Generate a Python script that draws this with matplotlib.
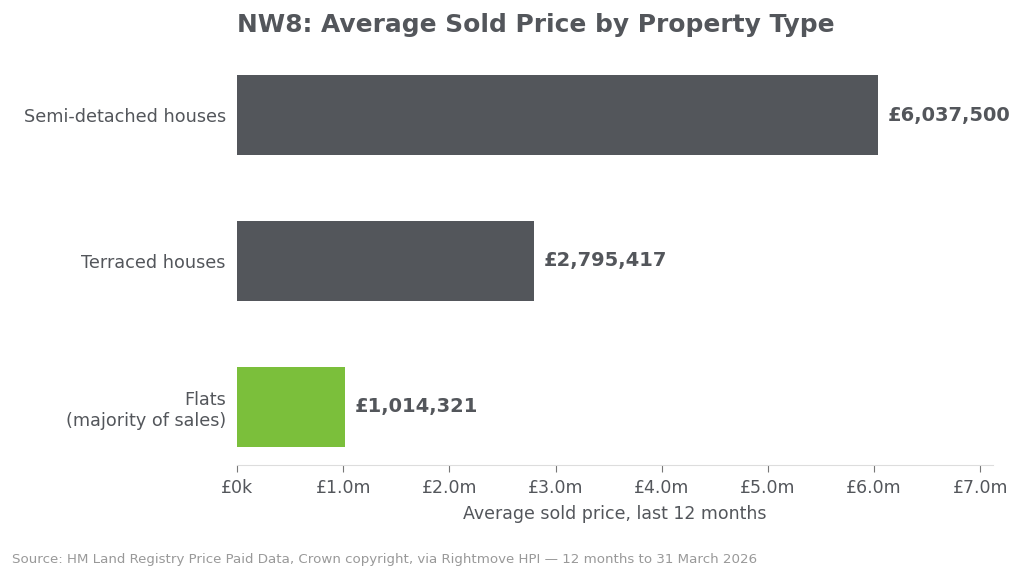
import matplotlib
matplotlib.use("Agg")
import matplotlib.pyplot as plt
from matplotlib.ticker import FuncFormatter

# data
categories = ["Flats\n(majority of sales)", "Terraced houses", "Semi-detached houses"]
prices = [1014321, 2795417, 6037500]
colors = ["#7bbf3b", "#53565b", "#53565b"]

text_col = "#53565b"

fig = plt.figure(figsize=(10.24, 5.79), dpi=100)
ax = fig.add_axes([0.2314, 0.1969, 0.7383, 0.7047])

ax.barh(range(len(categories)), prices, height=0.55, color=colors)
ax.set_yticks(range(len(categories)))
ax.set_yticklabels(categories, fontsize=12.7, color=text_col)
ax.set_ylim(-0.4, 2.4)
ax.set_xlim(0, 7.12e6)
ax.set_xticks([i * 1e6 for i in range(8)])


def fmt(v, pos):
    if v == 0:
        return "£0k"
    return "£%.1fm" % (v / 1e6)


ax.xaxis.set_major_formatter(FuncFormatter(fmt))
ax.tick_params(axis="x", labelsize=12.5, colors="#777777", labelcolor=text_col, length=5, pad=5)
ax.tick_params(axis="y", length=0, pad=8)

for s in ["top", "right", "left"]:
    ax.spines[s].set_visible(False)
ax.spines["bottom"].set_color("#dddddd")

for i, v in enumerate(prices):
    ax.text(v + 0.095e6, i, "£{:,}".format(v), va="center", ha="left",
            fontsize=14, fontweight="bold", color=text_col)

ax.set_xlabel("Average sold price, last 12 months", fontsize=12.5, color=text_col, labelpad=6)

fig.text(0.2314, 0.957, "NW8: Average Sold Price by Property Type", fontsize=17.9,
         fontweight="bold", color=text_col, ha="left", va="center")
fig.text(0.012, 0.033, "Source: HM Land Registry Price Paid Data, Crown copyright, via Rightmove HPI \u2014 12 months to 31 March 2026",
         fontsize=9.6, color="#999999", ha="left", va="center")

fig.savefig("out.png", dpi=100)
